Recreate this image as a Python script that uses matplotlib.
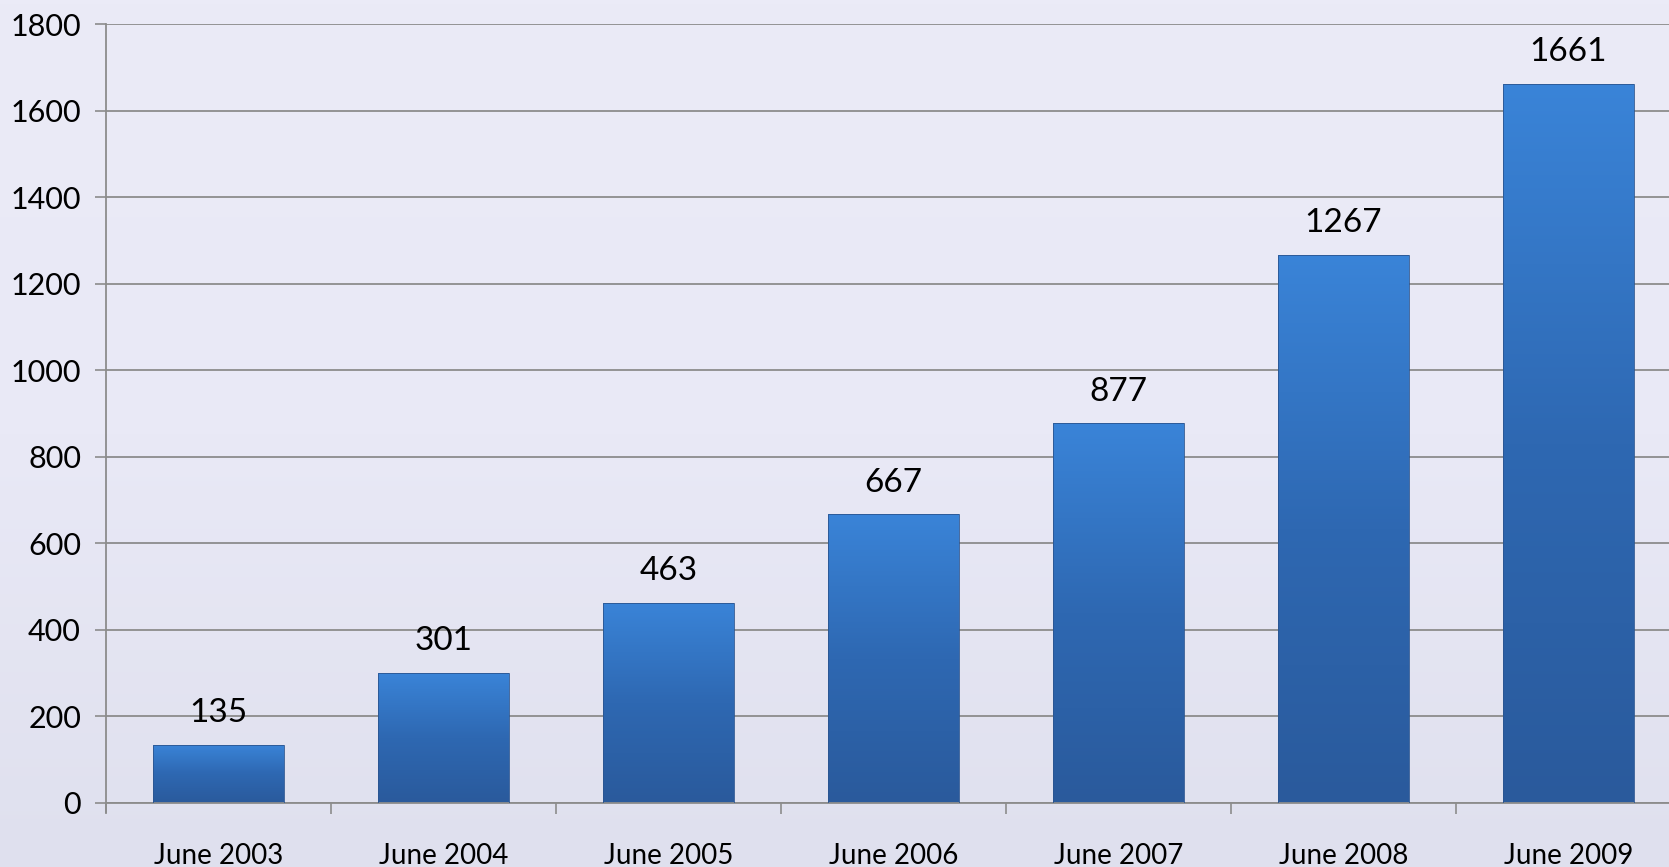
import numpy as np
import matplotlib
matplotlib.use("Agg")
import matplotlib.pyplot as plt
from matplotlib.colors import LinearSegmentedColormap

categories = ["June 2003", "June 2004", "June 2005", "June 2006", "June 2007", "June 2008", "June 2009"]
values = [135, 301, 463, 667, 877, 1267, 1661]
yticks = [0, 200, 400, 600, 800, 1000, 1200, 1400, 1600, 1800]

W, H = 1669, 867
fig = plt.figure(figsize=(W / 100, H / 100), dpi=100)
plt.rcParams['font.family'] = ['Lato', 'DejaVu Sans']

# background
bg = fig.add_axes([0, 0, 1, 1], zorder=0)
gy = np.linspace(0, 1, 200)[:, None] * np.ones((1, 2))
bg_cmap = LinearSegmentedColormap.from_list("bg", ["#dfe0ee", "#e9e9f6", "#ebebf7"])
bg.imshow(gy, aspect="auto", cmap=bg_cmap, extent=[0, 1, 0, 1], origin="lower")
bg.axis("off")

left = 106 / W
bottom = (H - 803) / H
top = (H - 24) / H
width = 1575 / W
ax = fig.add_axes([left, bottom, width, top - bottom], zorder=1)
ax.patch.set_alpha(0)

x = np.arange(len(categories))
bw = 0.58
bars = ax.bar(x, values, width=bw, color="none", edgecolor="#2b5590", linewidth=0.6, zorder=3)

bar_cmap = LinearSegmentedColormap.from_list("bar", ["#2a5a9c", "#2e68b2", "#3a84d8"])
grad = np.linspace(0, 1, 256)[:, None] * np.ones((1, 8))
for b in bars:
    x0, y0 = b.get_x(), b.get_y()
    w, h = b.get_width(), b.get_height()
    im = ax.imshow(grad, aspect="auto", cmap=bar_cmap, origin="lower",
                   extent=[x0, x0 + w, y0, y0 + h], zorder=2)
    im.set_clip_path(b)

for xi, v in zip(x, values):
    ax.annotate(str(v), (xi, v), xytext=(0, 12), textcoords="offset points",
                ha="center", va="bottom", fontsize=24, color="black")

ax.set_xlim(-0.5, len(categories) - 0.5)
ax.set_ylim(0, 1800)
ax.set_yticks(yticks)
ax.set_yticklabels([str(t) for t in yticks], fontsize=22)
ax.yaxis.grid(True, color="#8c8c8c", linewidth=1.3, zorder=1)
ax.set_axisbelow(True)

ax.set_xticks(x)
ax.set_xticklabels(categories, fontsize=20)
ax.set_xticks(np.arange(len(categories) + 1) - 0.5, minor=True)
ax.tick_params(axis="x", which="major", length=0, pad=29)
ax.tick_params(axis="x", which="minor", length=8, width=1.2, color="#8c8c8c")
ax.tick_params(axis="y", length=8, width=1.2, color="#8c8c8c", pad=10)

for s in ["top", "right"]:
    ax.spines[s].set_visible(False)
ax.spines["left"].set_color("#8c8c8c")
ax.spines["left"].set_linewidth(1.3)
ax.spines["bottom"].set_color("#8c8c8c")
ax.spines["bottom"].set_linewidth(1.3)
ax.spines["left"].set_bounds(-20, 1800)

fig.savefig("out.png", dpi=100)
